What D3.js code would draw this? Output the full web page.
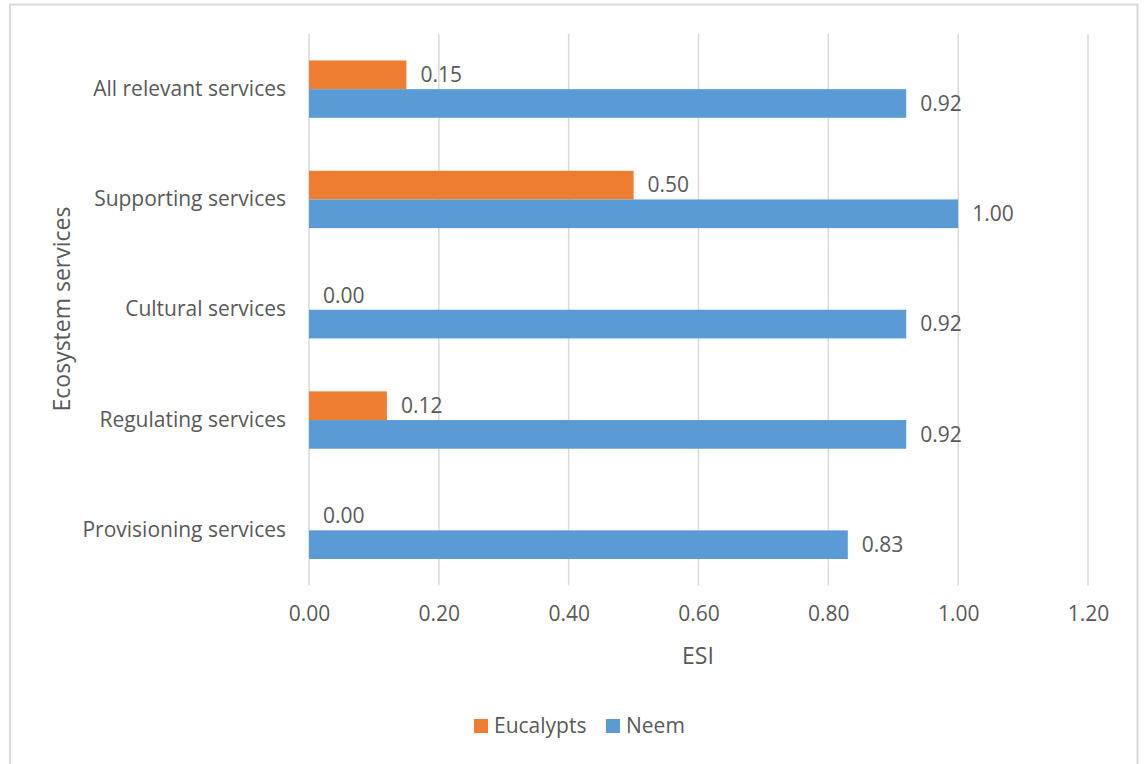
<!DOCTYPE html>
<html>
<head>
<meta charset="utf-8">
<script src="https://cdn.jsdelivr.net/npm/d3@7"></script>
<style>
  body { margin: 0; background: #fff; }
  svg { display: block; }
  text { font-family: "Open Sans", sans-serif; fill: #595959; }
</style>
</head>
<body>
<svg id="chart" width="1144" height="764"></svg>
<script>
const categories = [
    "All relevant services",
    "Supporting services",
    "Cultural services",
    "Regulating services",
    "Provisioning services",
];
const seriesNames = ["Eucalypts", "Neem"];
const eucalypts = [0.15, 0.5, 0.0, 0.12, 0.0];
const neem = [0.92, 1.0, 0.92, 0.92, 0.83];
const xTicks = [0, 0.2, 0.4, 0.6, 0.8, 1.0, 1.2];
const colors = ["#ED7D31", "#5B9BD5"];

const svg = d3.select("#chart");
const fontSize = 21;
const titleSize = 23;

// chart border (bottom edge falls outside the picture)
svg.append("rect")
    .attr("x", 10)
    .attr("y", 4.5)
    .attr("width", 1127.5)
    .attr("height", 770)
    .attr("fill", "#fff")
    .attr("stroke", "#d9d9d9")
    .attr("stroke-width", 2);

const plot = { left: 309, right: 1088, top: 34, bottom: 585.5 };

const x = d3.scaleLinear().domain([0, 1.2]).range([plot.left, plot.right]);
const y = d3.scaleBand().domain(categories).range([plot.top, plot.bottom]).paddingInner(0).paddingOuter(0);
// pair of bars takes ~52% of each band
const groupH = y.bandwidth() * 0.52;
const inner = d3.scaleBand().domain(seriesNames).range([0, groupH]);

const g = svg.append("g");

// gridlines
g.selectAll("line.grid")
    .data(xTicks)
    .enter()
    .append("line")
    .attr("class", "grid")
    .attr("x1", (d) => x(d))
    .attr("x2", (d) => x(d))
    .attr("y1", plot.top)
    .attr("y2", plot.bottom)
    .attr("stroke", "#d9d9d9")
    .attr("stroke-width", 1.5);

// bars
const rows = categories.map((c, i) => ({ cat: c, vals: [eucalypts[i], neem[i]] }));
const rowG = g.selectAll("g.row")
    .data(rows)
    .enter()
    .append("g")
    .attr("class", "row")
    .attr("transform", (d) => "translate(0," + (y(d.cat) + (y.bandwidth() - groupH) / 2) + ")");

rowG.selectAll("rect")
    .data((d) => d.vals.map((v, j) => ({ name: seriesNames[j], v: v, j: j })))
    .enter()
    .append("rect")
    .attr("x", x(0))
    .attr("y", (d) => inner(d.name))
    .attr("width", (d) => x(d.v) - x(0))
    .attr("height", inner.bandwidth())
    .attr("fill", (d) => colors[d.j]);

rowG.selectAll("text.val")
    .data((d) => d.vals.map((v, j) => ({ name: seriesNames[j], v: v, j: j })))
    .enter()
    .append("text")
    .attr("class", "val")
    .attr("x", (d) => x(d.v) + 14)
    .attr("y", (d) => inner(d.name) + inner.bandwidth() / 2)
    .attr("dy", "0.35em")
    .style("font-size", fontSize + "px")
    .text((d) => d.v.toFixed(2));

// y axis (category labels)
const yAxis = d3.axisLeft(y).tickSize(0).tickPadding(23);
const ya = svg.append("g")
    .attr("transform", "translate(" + plot.left + ",0)")
    .call(yAxis);
ya.select(".domain").remove();
ya.selectAll("text")
    .style("font-size", fontSize + "px")
    .style("font-family", '"Open Sans", sans-serif')
    .attr("fill", "#595959");

// x axis
const xAxis = d3.axisBottom(x).tickValues(xTicks).tickFormat(d3.format(".2f")).tickSize(0).tickPadding(21);
const xa = svg.append("g")
    .attr("transform", "translate(0," + plot.bottom + ")")
    .call(xAxis);
xa.select(".domain").remove();
xa.selectAll("text")
    .style("font-size", fontSize + "px")
    .style("font-family", '"Open Sans", sans-serif')
    .attr("fill", "#595959");

// axis titles
svg.append("text")
    .attr("x", 698)
    .attr("y", 656)
    .attr("dy", "0.35em")
    .attr("text-anchor", "middle")
    .style("font-size", titleSize + "px")
    .text("ESI");

svg.append("text")
    .attr("transform", "translate(62,309) rotate(-90)")
    .attr("dy", "0.35em")
    .attr("text-anchor", "middle")
    .style("font-size", titleSize + "px")
    .text("Ecosystem services");

// legend
const legendItems = [
    { name: seriesNames[0], color: colors[0], x: 474 },
    { name: seriesNames[1], color: colors[1], x: 606 },
];
const lg = svg.selectAll("g.legend")
    .data(legendItems)
    .enter()
    .append("g")
    .attr("class", "legend")
    .attr("transform", (d) => "translate(" + d.x + ",719)");
lg.append("rect")
    .attr("width", 14)
    .attr("height", 14)
    .attr("fill", (d) => d.color);
lg.append("text")
    .attr("x", 20)
    .attr("y", 7)
    .attr("dy", "0.35em")
    .style("font-size", fontSize + "px")
    .text((d) => d.name);
</script>
</body>
</html>
